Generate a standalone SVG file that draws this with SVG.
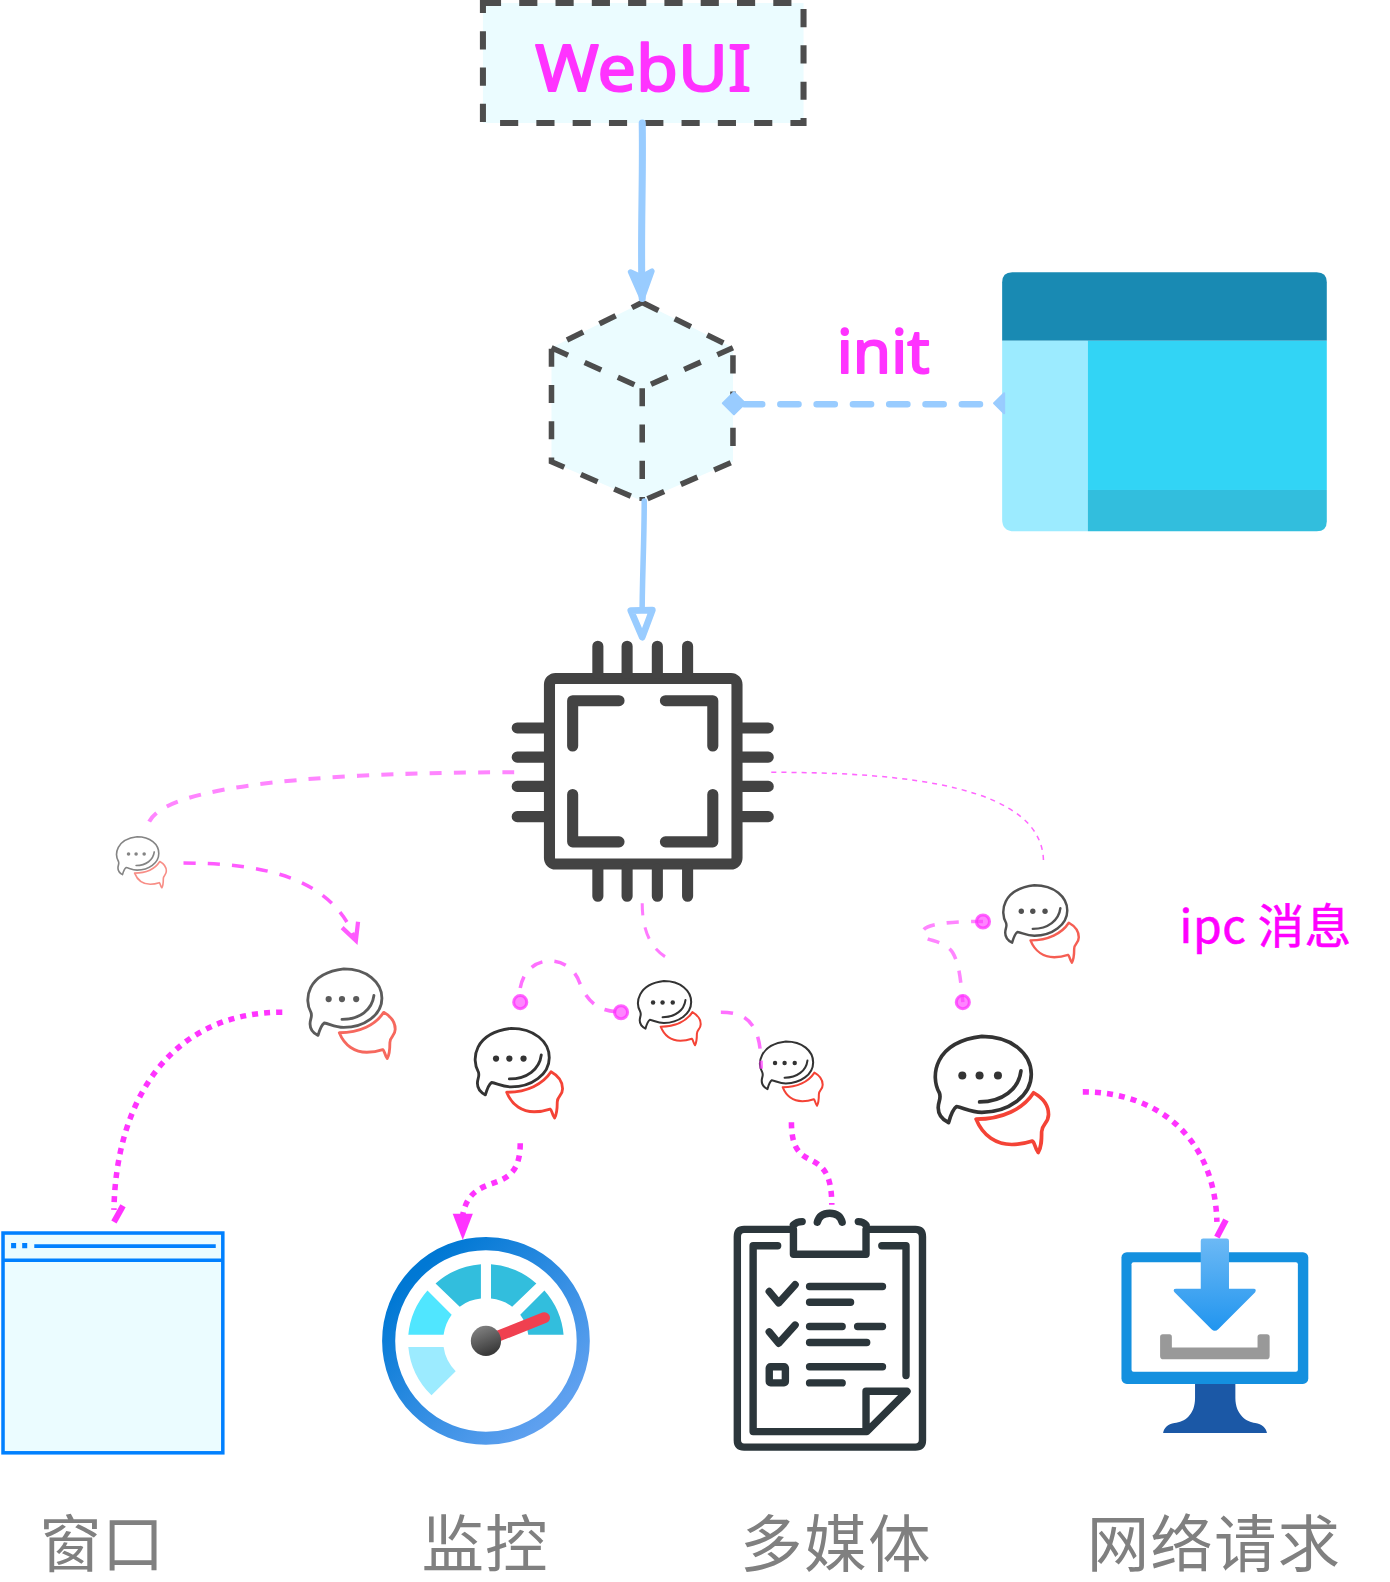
<svg xmlns="http://www.w3.org/2000/svg" xmlns:xlink="http://www.w3.org/1999/xlink" width="1390" height="1582" viewBox="0 0 1390 1582">
<style>
.cn{font-family:"Liberation Sans","Noto Sans CJK SC",sans-serif;font-size:62px;fill:#808080}
.hand{font-family:"Noto Sans","DejaVu Sans",sans-serif;fill:#ff33ff;stroke:#ff33ff;stroke-width:2;stroke-linejoin:round}
.sk{fill:none;stroke:#4d4d4d;stroke-width:6;stroke-dasharray:18 18}
.blue{fill:none;stroke:#99ccff;stroke-linecap:round}
.pk{fill:none;stroke:#ff33ff}
.dot{fill:#ff33ff;stroke:#ff33ff;stroke-width:3;fill-opacity:.6;stroke-opacity:.75}
.chip{fill:none;stroke:#434343;stroke-width:11;stroke-linecap:round;stroke-linejoin:round}
.clip{fill:none;stroke:#2b363b;stroke-width:22;stroke-linecap:round;stroke-linejoin:round}
</style>
<defs>
<g id="bubble">
<path d="M37 72C60 72 78 63 87 49C96 54 100 60 100 68C100 76 94 76 94 83C94 90 94 96 91 101C88 97 88 92 86 91C80 93 74 94 68 94C55 94 43 87 37 72Z" fill="#fff" stroke="#f44336" stroke-width="3.2" stroke-linejoin="round"/>
<path d="M13 75C7 72 4 68 4 62C4 56 7 54 5 49C-3 35 0 5 42 0C68 0 85 15 85 33C85 52 65 66 42 66C32 66 26 62 20 61C17 63 15 68 13 75Z" fill="#fff" stroke="#333" stroke-width="3.2" stroke-linejoin="round"/>
<path d="M40 57C60 57 74 46 76 30" fill="none" stroke="#333" stroke-width="3.2" stroke-linecap="round"/>
<circle cx="25" cy="34" r="3.5" fill="#333"/><circle cx="40" cy="34" r="3.5" fill="#333"/><circle cx="56" cy="34" r="3.5" fill="#333"/>
</g>
<linearGradient id="ring" x1="0" y1="0" x2="1" y2="1"><stop offset="0.15" stop-color="#0078d4"/><stop offset="0.85" stop-color="#5ea0ef"/></linearGradient>
<linearGradient id="hub" x1="0" y1="0" x2="0.4" y2="1"><stop offset="0" stop-color="#8a8a8a"/><stop offset="1" stop-color="#3a3a3a"/></linearGradient>
<linearGradient id="dl" x1="0" y1="0" x2="0" y2="1"><stop offset="0" stop-color="#6cb9f5"/><stop offset="1" stop-color="#2195ef"/></linearGradient>
<marker id="bArrow" markerUnits="userSpaceOnUse" markerWidth="40" markerHeight="40" refX="24" refY="12" orient="auto" viewBox="0 0 30 24"><path d="M4 4L24 12L4 20L8 12Z" fill="#99ccff" stroke="#99ccff" stroke-width="4" stroke-linejoin="round"/></marker>
<marker id="bOpen" markerUnits="userSpaceOnUse" markerWidth="40" markerHeight="40" refX="24" refY="12" orient="auto" viewBox="0 0 30 24"><path d="M4 4L24 12L4 20Z" fill="#fff" stroke="#99ccff" stroke-width="5" stroke-linejoin="round"/></marker>
<marker id="pV" markerUnits="userSpaceOnUse" markerWidth="24" markerHeight="24" refX="16" refY="10" orient="auto" viewBox="0 0 20 20"><path d="M2 3L16 10L2 17" fill="none" stroke="#ff33ff" stroke-width="3.5"/></marker>
</defs>

<g id="diagram" transform="scale(1.0082)">
<g id="webui">
<rect x="479" y="3" width="318" height="119" fill="#ebfcff"/>
<rect class="sk" x="479" y="3" width="318" height="119"/>
<text class="hand" x="531" y="90" font-size="64" textLength="214" lengthAdjust="spacingAndGlyphs">WebUI</text>
</g>

<g id="cube">
<path d="M637 300L727 345V458L637 497L547 458V345Z" fill="#ebfcff"/>
<path class="sk" d="M637 300L727 345V458L637 497L547 458V345Z M547 345L637 385L727 345 M637 385V497" style="stroke-width:5.5"/>
</g>

<g id="init-label">
<text class="hand" x="830" y="370" font-size="60" textLength="92" lengthAdjust="spacingAndGlyphs">init</text>
</g>

<g id="window-app">
<path d="M994 338V280Q994 270 1004 270H1306Q1316 270 1316 280V338Z" fill="#198ab3"/>
<path d="M994 338H1079V527H1006Q994 527 994 515Z" fill="#9cebff"/>
<rect x="1079" y="338" width="237" height="148" fill="#32d4f5"/>
<path d="M1079 486H1316V517Q1316 527 1306 527H1079Z" fill="#32bedd"/>
</g>

<g id="chip" class="chip">
<rect x="545" y="673" width="186" height="184" rx="6"/>
<path d="M593 641V668M622 641V668M652 641V668M682 641V668M593 862V889M622 862V889M652 862V889M682 862V889M513 722H540M513 751H540M513 780H540M513 810H540M736 722H762M736 751H762M736 780H762M736 810H762"/>
<path d="M568 740V695H614M660 695H707V740M568 788V835H614M660 835H707V788"/>
</g>

<g id="bubble-1"><use href="#bubble" transform="translate(115 830) scale(.5)" opacity=".6"/></g>
<g id="bubble-2"><use href="#bubble" transform="translate(304 961) scale(.88)" opacity=".8"/></g>
<g id="bubble-3"><use href="#bubble" transform="translate(470 1020) scale(.88)"/></g>
<g id="bubble-4"><use href="#bubble" transform="translate(632 973) scale(.63)"/></g>
<g id="bubble-5"><use href="#bubble" transform="translate(753 1033) scale(.63)"/></g>
<g id="bubble-6"><use href="#bubble" transform="translate(994 878) scale(.76)" opacity=".85"/></g>
<g id="bubble-7"><use href="#bubble" transform="translate(926 1028) scale(1.14)"/></g>

<g id="ipc-label">
<text x="1170" y="935" font-family="Noto Sans CJK SC,Noto Sans,sans-serif" font-size="46" fill="#ff00ff" stroke="#ff00ff" stroke-width=".6" textLength="170">ipc 消息</text>
</g>

<g id="browser-window">
<rect x="3" y="1223" width="218" height="218" fill="#ebfcff" stroke="#0080ff" stroke-width="3.500"/>
<path d="M3 1250H221" stroke="#0080ff" stroke-width="3.5"/>
<path d="M11 1233h5v5h-5zM22 1233h5v5h-5z" fill="#0080ff"/>
<path d="M34 1236H214" stroke="#0080ff" stroke-width="3.5"/>
</g>

<g id="gauge" transform="translate(482 1330)">
<circle r="96.500" fill="#fff" stroke="url(#ring)" stroke-width="13"/>
<path d="M-77 6H-42A42 42 0 0 0 -30 30L-54 54A77 77 0 0 1 -77 6Z" fill="#9cebff"/>
<path d="M-77 -6H-42A42 42 0 0 1 -34 -26L-58 -50A77 77 0 0 0 -77 -6Z" fill="#50e6ff"/>
<path d="M-50 -57L-26 -34A42 42 0 0 1 -5 -42V-76A77 77 0 0 0 -50 -57Z" fill="#32bedd"/>
<path d="M50 -57L26 -34A42 42 0 0 0 5 -42V-76A77 77 0 0 1 50 -57Z" fill="#32bedd"/>
<path d="M58 -50L34 -26A42 42 0 0 1 42 -6H77A77 77 0 0 0 58 -50Z" fill="#32bedd"/>
<path d="M0 0L58 -23" stroke="#f04050" stroke-width="11" stroke-linecap="round"/>
<circle r="15" fill="url(#hub)"/>
</g>

<g id="clipboard" class="clip" transform="translate(703 1180) scale(.3333)">
<path d="M250 118H105Q85 118 85 140V745Q85 766 105 766H615Q636 766 636 745V140Q636 118 615 118H470"/>
<path d="M252 118V192H468V118M252 105Q262 95 278 95M445 95Q460 95 468 105M323 97Q330 70 360 70Q390 70 397 97"/>
<path d="M205 167H132V720H470L590 600H468V720M515 167H587V553"/>
<path d="M180 303L208 337L257 283M300 288H517M300 335H422M180 423L208 457L257 403M300 407H397M443 407H517M300 455H470M300 527H517M300 575H397"/>
<rect x="180" y="527" width="48" height="48" rx="4"/>
</g>

<g id="monitor" transform="translate(1080 1200) scale(.3333)">
<path d="M316 518H436V560C436 610 470 632 495 634C515 636 528 650 530 664H221C223 650 235 636 255 634C285 632 316 610 316 560Z" fill="#1b58a6"/>
<rect x="97" y="126" width="556" height="392" rx="16" fill="#1490df"/>
<rect x="127" y="156" width="495" height="326" rx="6" fill="#fff"/>
<path d="M212 378Q212 370 220 370H240Q247 370 247 378V410H502V378Q502 370 510 370H530Q538 370 538 378V435Q538 445 528 445H222Q212 445 212 435Z" fill="#999"/>
<path d="M333 92Q333 85 340 85H410Q417 85 417 92V235H490Q500 235 495 245L385 355Q375 365 365 355L255 245Q248 235 260 235H333Z" fill="url(#dl)"/>
</g>

<g id="labels">
<text class="cn" x="39" y="1554" textLength="124">窗口</text>
<text class="cn" x="418" y="1554" textLength="125">监控</text>
<text class="cn" x="734" y="1554" textLength="189">多媒体</text>
<text class="cn" x="1078" y="1554" textLength="251">网络请求</text>
</g>

<g id="connectors">
<path class="blue" d="M637 122C638 180 635 240 637 296" stroke-width="7" marker-end="url(#bArrow)"/>
<path class="blue" d="M639 497C639 545 636 590 637 632" stroke-width="5.500" marker-end="url(#bOpen)"/>
<path class="blue" d="M738 401H990" stroke-width="6.500" stroke-dasharray="18 18"/>
<path d="M717 400L728 389L739 400L728 411Z M986 400L996 390V410Z" fill="#99ccff" stroke="#99ccff" stroke-width="2" stroke-linejoin="round"/>
<path class="pk" d="M510 766C400 766 170 770 148 815" stroke-width="4" stroke-dasharray="12 12" opacity=".6"/>
<path class="pk" d="M182 856C260 856 330 870 353 933" stroke-width="3.500" stroke-dasharray="12 12" opacity=".8" marker-end="url(#pV)"/>
<path class="pk" d="M280 1004C170 1004 115 1090 113 1200" stroke-width="5.500" stroke-dasharray="6 6"/>
<path class="pk" d="M122 1196L113 1212" stroke-width="6"/>
<path class="pk" d="M637 896C637 930 650 945 667 953" stroke-width="3" stroke-dasharray="12 12" opacity=".65"/>
<path class="pk" d="M516 980C522 945 565 945 575 975C585 1000 600 1003 616 1004" stroke-width="3.500" stroke-dasharray="12 12" opacity=".7"/>
<circle class="dot" cx="516" cy="994" r="6.500"/>
<circle class="dot" cx="616" cy="1004" r="6.500"/>
<path class="pk" d="M715 1004C745 1004 755 1020 755 1060" stroke-width="3.500" stroke-dasharray="12 12" opacity=".7"/>
<path class="pk" d="M516 1134C516 1190 468 1158 459 1205" stroke-width="5.500" stroke-dasharray="6 6"/>
<path d="M449 1204H469L459 1230Z" fill="#ff33ff"/>
<path class="pk" d="M785 1113C785 1170 825 1130 825 1195" stroke-width="5.500" stroke-dasharray="6 6"/>
<path class="pk" d="M765 766C900 766 1035 780 1035 855" stroke-width="1.500" stroke-dasharray="5 5" opacity=".75"/>
<path class="pk" d="M975 914C950 914 915 915 915 925C915 935 935 930 945 945C952 957 953 975 955 994" stroke-width="3.500" stroke-dasharray="12 12" opacity=".6"/>
<circle class="dot" cx="975" cy="914" r="6.500"/>
<circle class="dot" cx="955" cy="994" r="6.500"/>
<path class="pk" d="M1074 1083C1150 1083 1205 1130 1207 1212" stroke-width="5.500" stroke-dasharray="6 6"/>
<path class="pk" d="M1216 1210L1207 1227" stroke-width="6"/>
</g>
</g>
</svg>
